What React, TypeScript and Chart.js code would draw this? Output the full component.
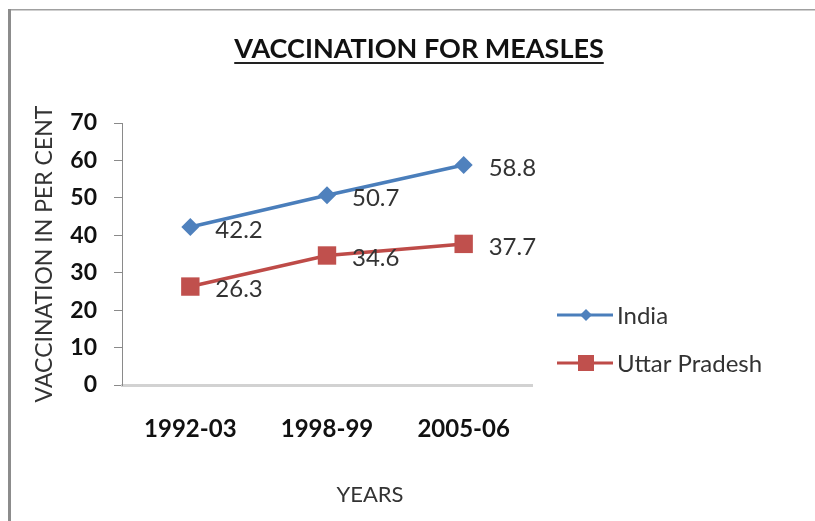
import React, { useEffect, useRef } from "react";
import { Chart, registerables } from "chart.js";

Chart.register(...registerables);

const categories = ["1992-03", "1998-99", "2005-06"];
const indiaValues = [42.2, 50.7, 58.8];
const upValues = [26.3, 34.6, 37.7];
const seriesNames = ["India", "Uttar Pradesh"];
const yTicks = [0, 10, 20, 30, 40, 50, 60, 70];
const chartTitle = "VACCINATION FOR MEASLES";
const xTitle = "YEARS";
const yTitle = "VACCINATION IN PER CENT";

const FONT = "Lato, 'Open Sans', sans-serif";
const BLUE = "#4a7ebb";
const BLUE_M = "#4f81bd";
const RED = "#be4b48";
const RED_M = "#c0504d";
const TEXT = "#333333";

function drawMarker(ctx: CanvasRenderingContext2D, style: string, x: number, y: number, r: number, color: string) {
  ctx.fillStyle = color;
  ctx.beginPath();
  if (style === "rectRot") {
    ctx.moveTo(x - r, y);
    ctx.lineTo(x, y - r);
    ctx.lineTo(x + r, y);
    ctx.lineTo(x, y + r);
    ctx.closePath();
  } else {
    ctx.rect(x - r, y - r, 2 * r, 2 * r);
  }
  ctx.fill();
}

const decorPlugin = {
  id: "decor",
  beforeDraw(chart: any) {
    const ctx = chart.ctx as CanvasRenderingContext2D;
    ctx.save();
    ctx.fillStyle = "#ffffff";
    ctx.fillRect(0, 0, chart.width, chart.height);
    ctx.fillStyle = "#a0a0a0";
    ctx.fillRect(8, 9, chart.width - 8, 1.5);
    ctx.fillStyle = "#8c8c8c";
    ctx.fillRect(8, 9, 3, chart.height - 9);
    ctx.restore();
  },
  afterDraw(chart: any) {
    const ctx = chart.ctx as CanvasRenderingContext2D;
    ctx.save();
    ctx.font = `bold 27px ${FONT}`;
    ctx.fillStyle = "#111111";
    ctx.textAlign = "center";
    ctx.textBaseline = "middle";
    const tx = 419;
    const ty = 49;
    ctx.fillText(chartTitle, tx, ty);
    const tw = ctx.measureText(chartTitle).width;
    ctx.fillStyle = "#222222";
    ctx.fillRect(tx - tw / 2, 62, tw, 2);
    ctx.font = `22px ${FONT}`;
    ctx.fillStyle = TEXT;
    ctx.fillText(xTitle, 370, 495);
    const styles = ["rectRot", "rect"];
    const lineColors = [BLUE, RED];
    const markColors = [BLUE_M, RED_M];
    const radii = [6, 8];
    seriesNames.forEach((name, i) => {
      const y = 315 + i * 48;
      ctx.strokeStyle = lineColors[i];
      ctx.lineWidth = 3;
      ctx.beginPath();
      ctx.moveTo(557, y);
      ctx.lineTo(613, y);
      ctx.stroke();
      drawMarker(ctx, styles[i], 586, y, radii[i], markColors[i]);
      ctx.font = `24px ${FONT}`;
      ctx.fillStyle = TEXT;
      ctx.textAlign = "left";
      ctx.textBaseline = "middle";
      ctx.fillText(name, 617, y + 1);
    });
    ctx.font = `24px ${FONT}`;
    ctx.fillStyle = TEXT;
    ctx.textAlign = "left";
    ctx.textBaseline = "middle";
    chart.data.datasets.forEach((ds: any, i: number) => {
      const meta = chart.getDatasetMeta(i);
      meta.data.forEach((pt: any, j: number) => {
        ctx.fillText(String(ds.data[j]), pt.x + 25, pt.y + 3);
      });
    });
    ctx.restore();
  },
};

export default function App() {
  const ref = useRef<HTMLCanvasElement | null>(null);
  useEffect(() => {
    if (!ref.current) return;
    const chart = new Chart(ref.current, {
      type: "line",
      data: {
        labels: categories,
        datasets: [
          {
            label: seriesNames[0],
            data: indiaValues,
            borderColor: BLUE,
            backgroundColor: BLUE_M,
            borderWidth: 3.5,
            pointStyle: "rectRot",
            pointRadius: 9,
            pointBackgroundColor: BLUE_M,
            pointBorderColor: BLUE_M,
            pointBorderWidth: 0,
            tension: 0,
          },
          {
            label: seriesNames[1],
            data: upValues,
            borderColor: RED,
            backgroundColor: RED_M,
            borderWidth: 3.5,
            pointStyle: "rect",
            pointRadius: 13,
            pointBackgroundColor: RED_M,
            pointBorderColor: RED_M,
            pointBorderWidth: 0,
            tension: 0,
          },
        ],
      },
      options: {
        animation: false,
        responsive: false,
        maintainAspectRatio: false,
        layout: { padding: { top: 123, right: 283, left: 0, bottom: 0 } },
        plugins: {
          legend: { display: false },
          title: { display: false },
          tooltip: { enabled: false },
        },
        scales: {
          x: {
            type: "category",
            offset: true,
            grid: { display: false },
            border: { display: true, color: "#d2d2d2", width: 3 },
            ticks: {
              color: "#111111",
              font: { family: FONT, size: 24, weight: "bold" },
              padding: 22,
            },
            afterFit: (s: any) => {
              s.height = 136;
            },
          },
          y: {
            min: 0,
            max: 70,
            afterBuildTicks: (s: any) => {
              s.ticks = yTicks.map((v) => ({ value: v }));
            },
            grid: {
              display: true,
              drawOnChartArea: false,
              drawTicks: true,
              tickLength: 8,
              tickColor: "#8a8a8a",
              tickWidth: 1,
            },
            border: { display: true, color: "#8a8a8a", width: 1 },
            ticks: {
              color: "#111111",
              font: { family: FONT, size: 23, weight: "bold" },
              padding: 17,
            },
            title: {
              display: true,
              text: yTitle,
              color: TEXT,
              font: { family: FONT, size: 23 },
              padding: { top: 31, bottom: 0 },
            },
            afterFit: (s: any) => {
              s.width = 122;
            },
          },
        },
      },
      plugins: [decorPlugin],
    });
    return () => chart.destroy();
  }, []);
  return (
    <div style={{ position: "fixed", left: 0, top: 0, width: 815, height: 521 }}>
      <canvas ref={ref} width={815} height={521} style={{ display: "block", width: 815, height: 521 }} />
    </div>
  );
}
